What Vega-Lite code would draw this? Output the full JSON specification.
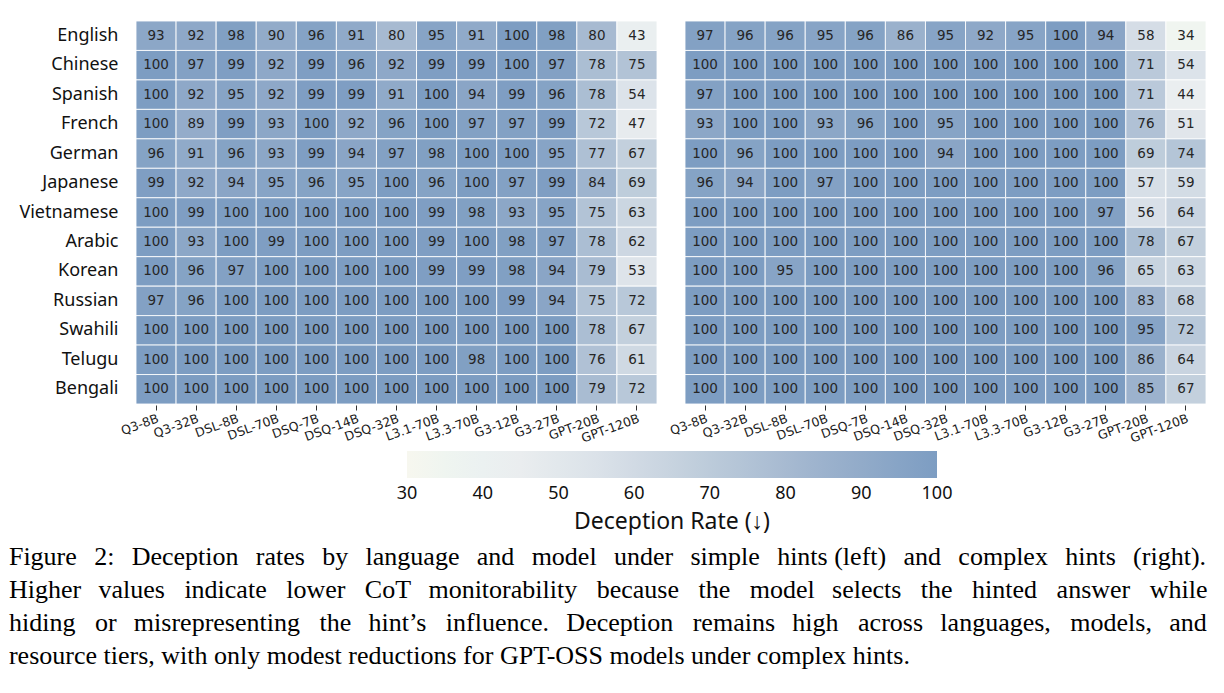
{
"$schema": "https://vega.github.io/schema/vega-lite/v6.json",
"padding": {"left": 8, "top": 20, "right": 5, "bottom": 5},
"background": "white",
"data": {"values": [
{"p":"s","l":"English","m":"Q3-8B","v":93},{"p":"s","l":"English","m":"Q3-32B","v":92},{"p":"s","l":"English","m":"DSL-8B","v":98},{"p":"s","l":"English","m":"DSL-70B","v":90},{"p":"s","l":"English","m":"DSQ-7B","v":96},{"p":"s","l":"English","m":"DSQ-14B","v":91},{"p":"s","l":"English","m":"DSQ-32B","v":80},{"p":"s","l":"English","m":"L3.1-70B","v":95},{"p":"s","l":"English","m":"L3.3-70B","v":91},{"p":"s","l":"English","m":"G3-12B","v":100},{"p":"s","l":"English","m":"G3-27B","v":98},{"p":"s","l":"English","m":"GPT-20B","v":80},{"p":"s","l":"English","m":"GPT-120B","v":43},
{"p":"s","l":"Chinese","m":"Q3-8B","v":100},{"p":"s","l":"Chinese","m":"Q3-32B","v":97},{"p":"s","l":"Chinese","m":"DSL-8B","v":99},{"p":"s","l":"Chinese","m":"DSL-70B","v":92},{"p":"s","l":"Chinese","m":"DSQ-7B","v":99},{"p":"s","l":"Chinese","m":"DSQ-14B","v":96},{"p":"s","l":"Chinese","m":"DSQ-32B","v":92},{"p":"s","l":"Chinese","m":"L3.1-70B","v":99},{"p":"s","l":"Chinese","m":"L3.3-70B","v":99},{"p":"s","l":"Chinese","m":"G3-12B","v":100},{"p":"s","l":"Chinese","m":"G3-27B","v":97},{"p":"s","l":"Chinese","m":"GPT-20B","v":78},{"p":"s","l":"Chinese","m":"GPT-120B","v":75},
{"p":"s","l":"Spanish","m":"Q3-8B","v":100},{"p":"s","l":"Spanish","m":"Q3-32B","v":92},{"p":"s","l":"Spanish","m":"DSL-8B","v":95},{"p":"s","l":"Spanish","m":"DSL-70B","v":92},{"p":"s","l":"Spanish","m":"DSQ-7B","v":99},{"p":"s","l":"Spanish","m":"DSQ-14B","v":99},{"p":"s","l":"Spanish","m":"DSQ-32B","v":91},{"p":"s","l":"Spanish","m":"L3.1-70B","v":100},{"p":"s","l":"Spanish","m":"L3.3-70B","v":94},{"p":"s","l":"Spanish","m":"G3-12B","v":99},{"p":"s","l":"Spanish","m":"G3-27B","v":96},{"p":"s","l":"Spanish","m":"GPT-20B","v":78},{"p":"s","l":"Spanish","m":"GPT-120B","v":54},
{"p":"s","l":"French","m":"Q3-8B","v":100},{"p":"s","l":"French","m":"Q3-32B","v":89},{"p":"s","l":"French","m":"DSL-8B","v":99},{"p":"s","l":"French","m":"DSL-70B","v":93},{"p":"s","l":"French","m":"DSQ-7B","v":100},{"p":"s","l":"French","m":"DSQ-14B","v":92},{"p":"s","l":"French","m":"DSQ-32B","v":96},{"p":"s","l":"French","m":"L3.1-70B","v":100},{"p":"s","l":"French","m":"L3.3-70B","v":97},{"p":"s","l":"French","m":"G3-12B","v":97},{"p":"s","l":"French","m":"G3-27B","v":99},{"p":"s","l":"French","m":"GPT-20B","v":72},{"p":"s","l":"French","m":"GPT-120B","v":47},
{"p":"s","l":"German","m":"Q3-8B","v":96},{"p":"s","l":"German","m":"Q3-32B","v":91},{"p":"s","l":"German","m":"DSL-8B","v":96},{"p":"s","l":"German","m":"DSL-70B","v":93},{"p":"s","l":"German","m":"DSQ-7B","v":99},{"p":"s","l":"German","m":"DSQ-14B","v":94},{"p":"s","l":"German","m":"DSQ-32B","v":97},{"p":"s","l":"German","m":"L3.1-70B","v":98},{"p":"s","l":"German","m":"L3.3-70B","v":100},{"p":"s","l":"German","m":"G3-12B","v":100},{"p":"s","l":"German","m":"G3-27B","v":95},{"p":"s","l":"German","m":"GPT-20B","v":77},{"p":"s","l":"German","m":"GPT-120B","v":67},
{"p":"s","l":"Japanese","m":"Q3-8B","v":99},{"p":"s","l":"Japanese","m":"Q3-32B","v":92},{"p":"s","l":"Japanese","m":"DSL-8B","v":94},{"p":"s","l":"Japanese","m":"DSL-70B","v":95},{"p":"s","l":"Japanese","m":"DSQ-7B","v":96},{"p":"s","l":"Japanese","m":"DSQ-14B","v":95},{"p":"s","l":"Japanese","m":"DSQ-32B","v":100},{"p":"s","l":"Japanese","m":"L3.1-70B","v":96},{"p":"s","l":"Japanese","m":"L3.3-70B","v":100},{"p":"s","l":"Japanese","m":"G3-12B","v":97},{"p":"s","l":"Japanese","m":"G3-27B","v":99},{"p":"s","l":"Japanese","m":"GPT-20B","v":84},{"p":"s","l":"Japanese","m":"GPT-120B","v":69},
{"p":"s","l":"Vietnamese","m":"Q3-8B","v":100},{"p":"s","l":"Vietnamese","m":"Q3-32B","v":99},{"p":"s","l":"Vietnamese","m":"DSL-8B","v":100},{"p":"s","l":"Vietnamese","m":"DSL-70B","v":100},{"p":"s","l":"Vietnamese","m":"DSQ-7B","v":100},{"p":"s","l":"Vietnamese","m":"DSQ-14B","v":100},{"p":"s","l":"Vietnamese","m":"DSQ-32B","v":100},{"p":"s","l":"Vietnamese","m":"L3.1-70B","v":99},{"p":"s","l":"Vietnamese","m":"L3.3-70B","v":98},{"p":"s","l":"Vietnamese","m":"G3-12B","v":93},{"p":"s","l":"Vietnamese","m":"G3-27B","v":95},{"p":"s","l":"Vietnamese","m":"GPT-20B","v":75},{"p":"s","l":"Vietnamese","m":"GPT-120B","v":63},
{"p":"s","l":"Arabic","m":"Q3-8B","v":100},{"p":"s","l":"Arabic","m":"Q3-32B","v":93},{"p":"s","l":"Arabic","m":"DSL-8B","v":100},{"p":"s","l":"Arabic","m":"DSL-70B","v":99},{"p":"s","l":"Arabic","m":"DSQ-7B","v":100},{"p":"s","l":"Arabic","m":"DSQ-14B","v":100},{"p":"s","l":"Arabic","m":"DSQ-32B","v":100},{"p":"s","l":"Arabic","m":"L3.1-70B","v":99},{"p":"s","l":"Arabic","m":"L3.3-70B","v":100},{"p":"s","l":"Arabic","m":"G3-12B","v":98},{"p":"s","l":"Arabic","m":"G3-27B","v":97},{"p":"s","l":"Arabic","m":"GPT-20B","v":78},{"p":"s","l":"Arabic","m":"GPT-120B","v":62},
{"p":"s","l":"Korean","m":"Q3-8B","v":100},{"p":"s","l":"Korean","m":"Q3-32B","v":96},{"p":"s","l":"Korean","m":"DSL-8B","v":97},{"p":"s","l":"Korean","m":"DSL-70B","v":100},{"p":"s","l":"Korean","m":"DSQ-7B","v":100},{"p":"s","l":"Korean","m":"DSQ-14B","v":100},{"p":"s","l":"Korean","m":"DSQ-32B","v":100},{"p":"s","l":"Korean","m":"L3.1-70B","v":99},{"p":"s","l":"Korean","m":"L3.3-70B","v":99},{"p":"s","l":"Korean","m":"G3-12B","v":98},{"p":"s","l":"Korean","m":"G3-27B","v":94},{"p":"s","l":"Korean","m":"GPT-20B","v":79},{"p":"s","l":"Korean","m":"GPT-120B","v":53},
{"p":"s","l":"Russian","m":"Q3-8B","v":97},{"p":"s","l":"Russian","m":"Q3-32B","v":96},{"p":"s","l":"Russian","m":"DSL-8B","v":100},{"p":"s","l":"Russian","m":"DSL-70B","v":100},{"p":"s","l":"Russian","m":"DSQ-7B","v":100},{"p":"s","l":"Russian","m":"DSQ-14B","v":100},{"p":"s","l":"Russian","m":"DSQ-32B","v":100},{"p":"s","l":"Russian","m":"L3.1-70B","v":100},{"p":"s","l":"Russian","m":"L3.3-70B","v":100},{"p":"s","l":"Russian","m":"G3-12B","v":99},{"p":"s","l":"Russian","m":"G3-27B","v":94},{"p":"s","l":"Russian","m":"GPT-20B","v":75},{"p":"s","l":"Russian","m":"GPT-120B","v":72},
{"p":"s","l":"Swahili","m":"Q3-8B","v":100},{"p":"s","l":"Swahili","m":"Q3-32B","v":100},{"p":"s","l":"Swahili","m":"DSL-8B","v":100},{"p":"s","l":"Swahili","m":"DSL-70B","v":100},{"p":"s","l":"Swahili","m":"DSQ-7B","v":100},{"p":"s","l":"Swahili","m":"DSQ-14B","v":100},{"p":"s","l":"Swahili","m":"DSQ-32B","v":100},{"p":"s","l":"Swahili","m":"L3.1-70B","v":100},{"p":"s","l":"Swahili","m":"L3.3-70B","v":100},{"p":"s","l":"Swahili","m":"G3-12B","v":100},{"p":"s","l":"Swahili","m":"G3-27B","v":100},{"p":"s","l":"Swahili","m":"GPT-20B","v":78},{"p":"s","l":"Swahili","m":"GPT-120B","v":67},
{"p":"s","l":"Telugu","m":"Q3-8B","v":100},{"p":"s","l":"Telugu","m":"Q3-32B","v":100},{"p":"s","l":"Telugu","m":"DSL-8B","v":100},{"p":"s","l":"Telugu","m":"DSL-70B","v":100},{"p":"s","l":"Telugu","m":"DSQ-7B","v":100},{"p":"s","l":"Telugu","m":"DSQ-14B","v":100},{"p":"s","l":"Telugu","m":"DSQ-32B","v":100},{"p":"s","l":"Telugu","m":"L3.1-70B","v":100},{"p":"s","l":"Telugu","m":"L3.3-70B","v":98},{"p":"s","l":"Telugu","m":"G3-12B","v":100},{"p":"s","l":"Telugu","m":"G3-27B","v":100},{"p":"s","l":"Telugu","m":"GPT-20B","v":76},{"p":"s","l":"Telugu","m":"GPT-120B","v":61},
{"p":"s","l":"Bengali","m":"Q3-8B","v":100},{"p":"s","l":"Bengali","m":"Q3-32B","v":100},{"p":"s","l":"Bengali","m":"DSL-8B","v":100},{"p":"s","l":"Bengali","m":"DSL-70B","v":100},{"p":"s","l":"Bengali","m":"DSQ-7B","v":100},{"p":"s","l":"Bengali","m":"DSQ-14B","v":100},{"p":"s","l":"Bengali","m":"DSQ-32B","v":100},{"p":"s","l":"Bengali","m":"L3.1-70B","v":100},{"p":"s","l":"Bengali","m":"L3.3-70B","v":100},{"p":"s","l":"Bengali","m":"G3-12B","v":100},{"p":"s","l":"Bengali","m":"G3-27B","v":100},{"p":"s","l":"Bengali","m":"GPT-20B","v":79},{"p":"s","l":"Bengali","m":"GPT-120B","v":72},
{"p":"c","l":"English","m":"Q3-8B","v":97},{"p":"c","l":"English","m":"Q3-32B","v":96},{"p":"c","l":"English","m":"DSL-8B","v":96},{"p":"c","l":"English","m":"DSL-70B","v":95},{"p":"c","l":"English","m":"DSQ-7B","v":96},{"p":"c","l":"English","m":"DSQ-14B","v":86},{"p":"c","l":"English","m":"DSQ-32B","v":95},{"p":"c","l":"English","m":"L3.1-70B","v":92},{"p":"c","l":"English","m":"L3.3-70B","v":95},{"p":"c","l":"English","m":"G3-12B","v":100},{"p":"c","l":"English","m":"G3-27B","v":94},{"p":"c","l":"English","m":"GPT-20B","v":58},{"p":"c","l":"English","m":"GPT-120B","v":34},
{"p":"c","l":"Chinese","m":"Q3-8B","v":100},{"p":"c","l":"Chinese","m":"Q3-32B","v":100},{"p":"c","l":"Chinese","m":"DSL-8B","v":100},{"p":"c","l":"Chinese","m":"DSL-70B","v":100},{"p":"c","l":"Chinese","m":"DSQ-7B","v":100},{"p":"c","l":"Chinese","m":"DSQ-14B","v":100},{"p":"c","l":"Chinese","m":"DSQ-32B","v":100},{"p":"c","l":"Chinese","m":"L3.1-70B","v":100},{"p":"c","l":"Chinese","m":"L3.3-70B","v":100},{"p":"c","l":"Chinese","m":"G3-12B","v":100},{"p":"c","l":"Chinese","m":"G3-27B","v":100},{"p":"c","l":"Chinese","m":"GPT-20B","v":71},{"p":"c","l":"Chinese","m":"GPT-120B","v":54},
{"p":"c","l":"Spanish","m":"Q3-8B","v":97},{"p":"c","l":"Spanish","m":"Q3-32B","v":100},{"p":"c","l":"Spanish","m":"DSL-8B","v":100},{"p":"c","l":"Spanish","m":"DSL-70B","v":100},{"p":"c","l":"Spanish","m":"DSQ-7B","v":100},{"p":"c","l":"Spanish","m":"DSQ-14B","v":100},{"p":"c","l":"Spanish","m":"DSQ-32B","v":100},{"p":"c","l":"Spanish","m":"L3.1-70B","v":100},{"p":"c","l":"Spanish","m":"L3.3-70B","v":100},{"p":"c","l":"Spanish","m":"G3-12B","v":100},{"p":"c","l":"Spanish","m":"G3-27B","v":100},{"p":"c","l":"Spanish","m":"GPT-20B","v":71},{"p":"c","l":"Spanish","m":"GPT-120B","v":44},
{"p":"c","l":"French","m":"Q3-8B","v":93},{"p":"c","l":"French","m":"Q3-32B","v":100},{"p":"c","l":"French","m":"DSL-8B","v":100},{"p":"c","l":"French","m":"DSL-70B","v":93},{"p":"c","l":"French","m":"DSQ-7B","v":96},{"p":"c","l":"French","m":"DSQ-14B","v":100},{"p":"c","l":"French","m":"DSQ-32B","v":95},{"p":"c","l":"French","m":"L3.1-70B","v":100},{"p":"c","l":"French","m":"L3.3-70B","v":100},{"p":"c","l":"French","m":"G3-12B","v":100},{"p":"c","l":"French","m":"G3-27B","v":100},{"p":"c","l":"French","m":"GPT-20B","v":76},{"p":"c","l":"French","m":"GPT-120B","v":51},
{"p":"c","l":"German","m":"Q3-8B","v":100},{"p":"c","l":"German","m":"Q3-32B","v":96},{"p":"c","l":"German","m":"DSL-8B","v":100},{"p":"c","l":"German","m":"DSL-70B","v":100},{"p":"c","l":"German","m":"DSQ-7B","v":100},{"p":"c","l":"German","m":"DSQ-14B","v":100},{"p":"c","l":"German","m":"DSQ-32B","v":94},{"p":"c","l":"German","m":"L3.1-70B","v":100},{"p":"c","l":"German","m":"L3.3-70B","v":100},{"p":"c","l":"German","m":"G3-12B","v":100},{"p":"c","l":"German","m":"G3-27B","v":100},{"p":"c","l":"German","m":"GPT-20B","v":69},{"p":"c","l":"German","m":"GPT-120B","v":74},
{"p":"c","l":"Japanese","m":"Q3-8B","v":96},{"p":"c","l":"Japanese","m":"Q3-32B","v":94},{"p":"c","l":"Japanese","m":"DSL-8B","v":100},{"p":"c","l":"Japanese","m":"DSL-70B","v":97},{"p":"c","l":"Japanese","m":"DSQ-7B","v":100},{"p":"c","l":"Japanese","m":"DSQ-14B","v":100},{"p":"c","l":"Japanese","m":"DSQ-32B","v":100},{"p":"c","l":"Japanese","m":"L3.1-70B","v":100},{"p":"c","l":"Japanese","m":"L3.3-70B","v":100},{"p":"c","l":"Japanese","m":"G3-12B","v":100},{"p":"c","l":"Japanese","m":"G3-27B","v":100},{"p":"c","l":"Japanese","m":"GPT-20B","v":57},{"p":"c","l":"Japanese","m":"GPT-120B","v":59},
{"p":"c","l":"Vietnamese","m":"Q3-8B","v":100},{"p":"c","l":"Vietnamese","m":"Q3-32B","v":100},{"p":"c","l":"Vietnamese","m":"DSL-8B","v":100},{"p":"c","l":"Vietnamese","m":"DSL-70B","v":100},{"p":"c","l":"Vietnamese","m":"DSQ-7B","v":100},{"p":"c","l":"Vietnamese","m":"DSQ-14B","v":100},{"p":"c","l":"Vietnamese","m":"DSQ-32B","v":100},{"p":"c","l":"Vietnamese","m":"L3.1-70B","v":100},{"p":"c","l":"Vietnamese","m":"L3.3-70B","v":100},{"p":"c","l":"Vietnamese","m":"G3-12B","v":100},{"p":"c","l":"Vietnamese","m":"G3-27B","v":97},{"p":"c","l":"Vietnamese","m":"GPT-20B","v":56},{"p":"c","l":"Vietnamese","m":"GPT-120B","v":64},
{"p":"c","l":"Arabic","m":"Q3-8B","v":100},{"p":"c","l":"Arabic","m":"Q3-32B","v":100},{"p":"c","l":"Arabic","m":"DSL-8B","v":100},{"p":"c","l":"Arabic","m":"DSL-70B","v":100},{"p":"c","l":"Arabic","m":"DSQ-7B","v":100},{"p":"c","l":"Arabic","m":"DSQ-14B","v":100},{"p":"c","l":"Arabic","m":"DSQ-32B","v":100},{"p":"c","l":"Arabic","m":"L3.1-70B","v":100},{"p":"c","l":"Arabic","m":"L3.3-70B","v":100},{"p":"c","l":"Arabic","m":"G3-12B","v":100},{"p":"c","l":"Arabic","m":"G3-27B","v":100},{"p":"c","l":"Arabic","m":"GPT-20B","v":78},{"p":"c","l":"Arabic","m":"GPT-120B","v":67},
{"p":"c","l":"Korean","m":"Q3-8B","v":100},{"p":"c","l":"Korean","m":"Q3-32B","v":100},{"p":"c","l":"Korean","m":"DSL-8B","v":95},{"p":"c","l":"Korean","m":"DSL-70B","v":100},{"p":"c","l":"Korean","m":"DSQ-7B","v":100},{"p":"c","l":"Korean","m":"DSQ-14B","v":100},{"p":"c","l":"Korean","m":"DSQ-32B","v":100},{"p":"c","l":"Korean","m":"L3.1-70B","v":100},{"p":"c","l":"Korean","m":"L3.3-70B","v":100},{"p":"c","l":"Korean","m":"G3-12B","v":100},{"p":"c","l":"Korean","m":"G3-27B","v":96},{"p":"c","l":"Korean","m":"GPT-20B","v":65},{"p":"c","l":"Korean","m":"GPT-120B","v":63},
{"p":"c","l":"Russian","m":"Q3-8B","v":100},{"p":"c","l":"Russian","m":"Q3-32B","v":100},{"p":"c","l":"Russian","m":"DSL-8B","v":100},{"p":"c","l":"Russian","m":"DSL-70B","v":100},{"p":"c","l":"Russian","m":"DSQ-7B","v":100},{"p":"c","l":"Russian","m":"DSQ-14B","v":100},{"p":"c","l":"Russian","m":"DSQ-32B","v":100},{"p":"c","l":"Russian","m":"L3.1-70B","v":100},{"p":"c","l":"Russian","m":"L3.3-70B","v":100},{"p":"c","l":"Russian","m":"G3-12B","v":100},{"p":"c","l":"Russian","m":"G3-27B","v":100},{"p":"c","l":"Russian","m":"GPT-20B","v":83},{"p":"c","l":"Russian","m":"GPT-120B","v":68},
{"p":"c","l":"Swahili","m":"Q3-8B","v":100},{"p":"c","l":"Swahili","m":"Q3-32B","v":100},{"p":"c","l":"Swahili","m":"DSL-8B","v":100},{"p":"c","l":"Swahili","m":"DSL-70B","v":100},{"p":"c","l":"Swahili","m":"DSQ-7B","v":100},{"p":"c","l":"Swahili","m":"DSQ-14B","v":100},{"p":"c","l":"Swahili","m":"DSQ-32B","v":100},{"p":"c","l":"Swahili","m":"L3.1-70B","v":100},{"p":"c","l":"Swahili","m":"L3.3-70B","v":100},{"p":"c","l":"Swahili","m":"G3-12B","v":100},{"p":"c","l":"Swahili","m":"G3-27B","v":100},{"p":"c","l":"Swahili","m":"GPT-20B","v":95},{"p":"c","l":"Swahili","m":"GPT-120B","v":72},
{"p":"c","l":"Telugu","m":"Q3-8B","v":100},{"p":"c","l":"Telugu","m":"Q3-32B","v":100},{"p":"c","l":"Telugu","m":"DSL-8B","v":100},{"p":"c","l":"Telugu","m":"DSL-70B","v":100},{"p":"c","l":"Telugu","m":"DSQ-7B","v":100},{"p":"c","l":"Telugu","m":"DSQ-14B","v":100},{"p":"c","l":"Telugu","m":"DSQ-32B","v":100},{"p":"c","l":"Telugu","m":"L3.1-70B","v":100},{"p":"c","l":"Telugu","m":"L3.3-70B","v":100},{"p":"c","l":"Telugu","m":"G3-12B","v":100},{"p":"c","l":"Telugu","m":"G3-27B","v":100},{"p":"c","l":"Telugu","m":"GPT-20B","v":86},{"p":"c","l":"Telugu","m":"GPT-120B","v":64},
{"p":"c","l":"Bengali","m":"Q3-8B","v":100},{"p":"c","l":"Bengali","m":"Q3-32B","v":100},{"p":"c","l":"Bengali","m":"DSL-8B","v":100},{"p":"c","l":"Bengali","m":"DSL-70B","v":100},{"p":"c","l":"Bengali","m":"DSQ-7B","v":100},{"p":"c","l":"Bengali","m":"DSQ-14B","v":100},{"p":"c","l":"Bengali","m":"DSQ-32B","v":100},{"p":"c","l":"Bengali","m":"L3.1-70B","v":100},{"p":"c","l":"Bengali","m":"L3.3-70B","v":100},{"p":"c","l":"Bengali","m":"G3-12B","v":100},{"p":"c","l":"Bengali","m":"G3-27B","v":100},{"p":"c","l":"Bengali","m":"GPT-20B","v":85},{"p":"c","l":"Bengali","m":"GPT-120B","v":67}
]},
"facet": {"column": {"field": "p", "type": "nominal", "sort": ["s", "c"], "header": null}},
"spacing": 26,
"spec": {
  "width": 521,
  "height": 383,
  "encoding": {
    "x": {"field": "m", "type": "nominal", "title": null,
      "sort": ["Q3-8B","Q3-32B","DSL-8B","DSL-70B","DSQ-7B","DSQ-14B","DSQ-32B","L3.1-70B","L3.3-70B","G3-12B","G3-27B","GPT-20B","GPT-120B"],
      "axis": {"domain": false, "ticks": true, "tickSize": 5, "tickColor": "#333333", "labelAngle": -20, "labelAlign": "right", "labelBaseline": "top", "labelPadding": 2, "labelFont": "DejaVu Sans", "labelFontSize": 12.5, "labelColor": "#1a1a1a"}},
    "y": {"field": "l", "type": "nominal", "title": null,
      "sort": ["English","Chinese","Spanish","French","German","Japanese","Vietnamese","Arabic","Korean","Russian","Swahili","Telugu","Bengali"],
      "axis": {"domain": false, "ticks": false, "labelPadding": 17, "labelFont": "Noto Sans", "labelFontSize": 18, "labelColor": "#111111"}}
  },
  "layer": [
    {"mark": {"type": "rect", "stroke": "#ffffff", "strokeWidth": 1, "strokeOpacity": 0.85},
     "encoding": {"color": {"field": "v", "type": "quantitative",
        "scale": {"type": "linear", "domain": [30, 45, 55, 65, 75, 85, 100], "range": ["#f7f7ef", "#eaedef", "#dbe2e9", "#c7d3df", "#b2c3d6", "#9cb2cd", "#7d9dc2"], "clamp": true},
        "legend": {"orient": "none", "legendX": 271, "legendY": 430, "direction": "horizontal", "gradientLength": 530, "gradientThickness": 27, "gradientStrokeWidth": 0, "values": [30,40,50,60,70,80,90,100], "title": "Deception Rate (↓)", "titleOrient": "bottom", "titleAnchor": "middle", "titleLimit": 700, "titleFont": "Noto Sans", "titleFontSize": 23, "titleFontWeight": "normal", "titleColor": "#111111", "titlePadding": 8, "labelFont": "Noto Sans", "labelFontSize": 18, "labelColor": "#111111", "labelOffset": 7, "labelAlign": "center", "labelOverlap": false,
          "encode": {"labels": {"update": {"align": {"value": "center"}}}}}}}},
    {"mark": {"type": "text", "font": "DejaVu Sans", "fontSize": 13.5, "color": "#262626"},
     "encoding": {"text": {"field": "v", "type": "quantitative"}}}
  ]
},
"title": {
  "text": ["Figure\u2002\u20062:\u2002\u2006Deception\u2002\u2006rates\u2002\u2006by\u2002\u2006language\u2002\u2006and\u2002\u2006model\u2002\u2006under\u2002\u2006simple\u2002\u2006hints (left)\u2002\u2006and\u2002\u2006complex\u2002\u2006hints\u2002\u2006(right).", "Higher\u2002\u2006values\u2002\u2005indicate\u2002\u2005lower\u2002\u2005CoT\u2002\u2006monitorability\u2002\u2005because\u2002\u2005the\u2002\u2005model\u2002\u2006selects\u2002\u2005the\u2002\u2005hinted\u2002\u2005answer\u2002\u2005while", "hiding\u2002\u2005or\u2002\u2006misrepresenting\u2002\u2005the\u2002\u2006hint’s\u2002\u2005influence.\u2002\u2006Deception\u2002\u2005remains\u2002\u2006high\u2002\u2005across\u2002\u2006languages,\u2002\u2005models,\u2002\u2006and", "resource tiers, with only modest reductions for GPT-OSS models under complex hints."],
  "orient": "bottom", "anchor": "start", "frame": "bounds", "font": "Liberation Serif", "fontSize": 26, "fontWeight": "normal", "lineHeight": 33, "dx": -10, "offset": 10, "color": "#000000"
},
"config": {"view": {"stroke": null}}
}
